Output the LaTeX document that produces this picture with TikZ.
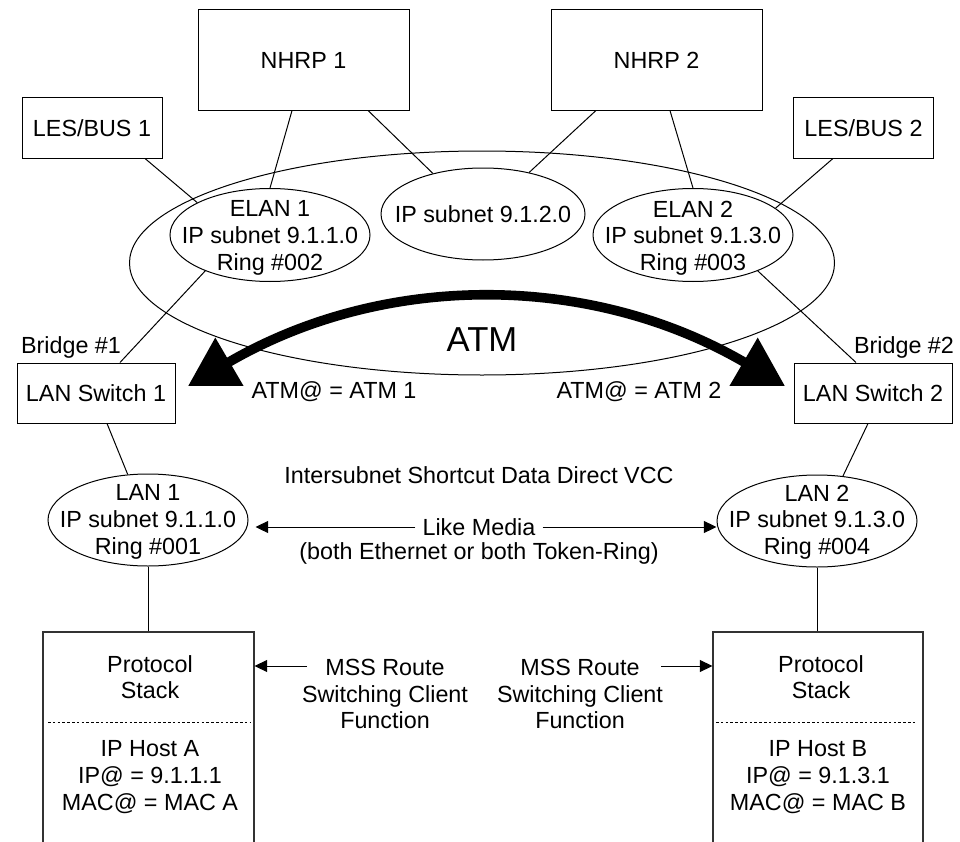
\documentclass[tikz,border=0pt]{standalone}
\usepackage{fontspec}
\setmainfont{Liberation Sans}
\usetikzlibrary{arrows.meta,shapes.geometric}
\begin{document}
\begin{tikzpicture}[x=0.75pt,y=-0.75pt,
  txt/.style={font=\fontsize{17.5}{20}\selectfont, align=center, inner sep=0},
  box/.style={draw, line width=0.75pt, rectangle, inner sep=0, align=center, font=\fontsize{17.5}{20}\selectfont},
  ell/.style={draw, ellipse, line width=0.75pt, inner sep=0},
  conn/.style={line width=0.75pt},
  sarrow/.style={line width=0.75pt, -{Triangle[length=9.5pt,width=9pt]}},
  bigarrow/.style={line width=7.2pt, {Triangle[length=36pt,width=40pt]}-{Triangle[length=36pt,width=40pt]}},
  dline/.style={line width=0.6pt, dash pattern=on 2pt off 1.6pt},
  hostbox/.style={draw=black!80, line width=0.8pt, inner sep=0}
]
\useasboundingbox (0,0) rectangle (960,842);
\clip (0,0) rectangle (960,842);

% top boxes
\node[box, minimum width=158.25pt, minimum height=75pt] (nhrp1) at (303.5,60) {NHRP 1};
\node[box, minimum width=158.25pt, minimum height=75pt] (nhrp2) at (656.5,60) {NHRP 2};
\node[box, minimum width=105pt, minimum height=45pt] (les1) at (92,128) {LES/BUS 1};
\node[box, minimum width=105pt, minimum height=45pt] (les2) at (863.5,128) {LES/BUS 2};

% ATM cloud
\node[ell, minimum width=528.75pt, minimum height=168pt] (atm) at (482,263) {};
\node[ell, minimum width=150pt, minimum height=69.75pt] (elan1) at (270,235) {};
\node[txt] (elan1t) at (270,238) {ELAN 1\\IP subnet 9.1.1.0\\Ring \#002};
\node[ell, minimum width=153pt, minimum height=69pt] (sub) at (483,214) {};
\node[txt] (subt) at (483,214) {IP subnet 9.1.2.0};
\node[ell, minimum width=150pt, minimum height=69.75pt] (elan2) at (693,235) {};
\node[txt] (elan2t) at (693,238) {ELAN 2\\IP subnet 9.1.3.0\\Ring \#003};

% switches
\node[box, minimum width=118.5pt, minimum height=45pt] (sw1) at (96,393) {LAN Switch 1};
\node[box, minimum width=118.5pt, minimum height=45pt] (sw2) at (873,393) {LAN Switch 2};
\node[txt] (br1) at (71,347) {Bridge \#1};
\node[txt] (br2) at (904,347) {Bridge \#2};

% ATM arrow and labels
\node[txt, font=\fontsize{26}{30}\selectfont] (atmlbl) at (482,340) {ATM};
\node[txt] (atm1) at (334,392) {ATM@ = ATM 1};
\node[txt] (atm2) at (639,392) {ATM@ = ATM 2};
\coordinate (atmL) at (188,386);
\coordinate (atmR) at (785,386);
\draw[bigarrow] (atmL) .. controls (383,272) and (590,272) .. (atmR);

% LANs
\node[ell, minimum width=150pt, minimum height=69pt] (lan1) at (148,520) {};
\node[txt] (lan1t) at (148,522) {LAN 1\\IP subnet 9.1.1.0\\Ring \#001};
\node[ell, minimum width=150pt, minimum height=69pt] (lan2) at (817,521) {};
\node[txt] (lan2t) at (817,522) {LAN 2\\IP subnet 9.1.3.0\\Ring \#004};

\node[txt] (vcc) at (479,475) {Intersubnet Shortcut Data Direct VCC};
\node[txt, inner xsep=5.25pt] (lm) at (479,527) {Like Media};
\node[txt] (both) at (479,553) {(both Ethernet or both Token-Ring)};
\draw[sarrow] (lm.west) -- ([xshift=5.25pt]lm.west -| lan1.east);
\draw[sarrow] (lm.east) -- (lm.east -| lan2.west);

% hosts
\node[hostbox, minimum width=158.25pt, minimum height=171pt] (hostA) at (148.5,746) {};
\node[hostbox, minimum width=157.5pt, minimum height=171pt] (hostB) at (818,746) {};
\node[txt] (psA) at (150,677) {Protocol\\Stack};
\node[txt] (ipA) at (150,777) {IP Host A\\IP@ = 9.1.1.1\\MAC@ = MAC A};
\node[txt] (psB) at (821,677) {Protocol\\Stack};
\node[txt] (ipB) at (818,777) {IP Host B\\IP@ = 9.1.3.1\\MAC@ = MAC B};
\coordinate (dA1) at (48,722);
\coordinate (dA2) at (250,722);
\coordinate (dB1) at (716,722);
\coordinate (dB2) at (915,722);
\draw[dline] (dA1) -- (dA2);
\draw[dline] (dB1) -- (dB2);

% MSS
\node[txt] (mssA) at (385,694) {MSS Route\\Switching Client\\Function};
\node[txt] (mssB) at (580,694) {MSS Route\\Switching Client\\Function};
\coordinate (mssAs) at (307,666);
\coordinate (mssBs) at (661,666);
\draw[sarrow] (mssAs) -- (mssAs -| hostA.east);
\draw[sarrow] (mssBs) -- (mssBs -| hostB.west);

% connectors
\draw[conn] ([xshift=-8.6pt]nhrp1.south) -- (elan1.north);
\draw[conn] ([xshift=48.4pt]nhrp1.south) -- (sub.141);
\draw[conn] ([xshift=-45.4pt]nhrp2.south) -- (sub.42);
\draw[conn] ([xshift=10.1pt]nhrp2.south) -- (elan2.north);
\draw[conn] ([xshift=39.75pt]les1.south) -- (elan1.156);
\draw[conn] ([xshift=-22.9pt]les2.south) -- (elan2.18);
\draw[conn] (elan1.209) -- ([xshift=18pt]sw1.north);
\draw[conn] (elan2.331) -- ([xshift=-12.75pt]sw2.north);
\draw[conn] ([xshift=8.25pt]sw1.south) -- (lan1.114);
\draw[conn] ([xshift=-3.75pt]sw2.south) -- (lan2.60);
\draw[conn] (lan1.south) -- (lan1.south |- hostA.north);
\draw[conn] (lan2.south) -- (lan2.south |- hostB.north);
\end{tikzpicture}
\end{document}
